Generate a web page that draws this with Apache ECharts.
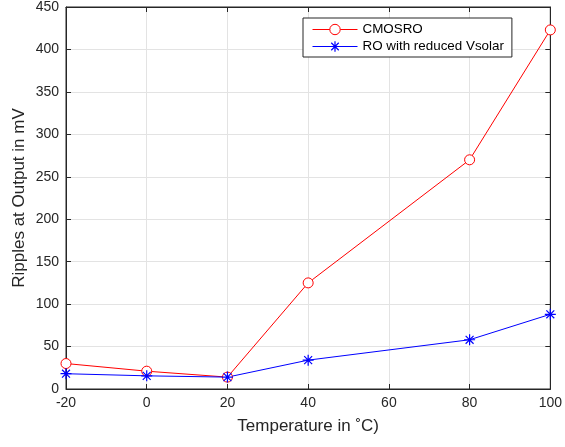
<!DOCTYPE html>
<html><head><meta charset="utf-8">
<script src="https://cdn.jsdelivr.net/npm/echarts@6/dist/echarts.min.js"></script>
<style>html,body{margin:0;padding:0;background:#fff}#c{width:565px;height:447px}</style>
</head><body><div id="c"></div>
<script>
const temps = [-20, 0, 20, 40, 80, 100];
const cmosro = [30, 21, 14, 125, 270, 423];
const roReduced = [18, 15.5, 14, 34, 58, 88];
const xTicks = [-20, 0, 20, 40, 60, 80, 100];
const yTicks = [0, 50, 100, 150, 200, 250, 300, 350, 400, 450];

const FONT = 'Liberation Sans, Arial, Helvetica, sans-serif';
const AX = '#262626';
const star = 'path://M0,-1L0,1M-1,0L1,0M-0.72,-0.72L0.72,0.72M-0.72,0.72L0.72,-0.72';

const chart = echarts.init(document.getElementById('c'), null, {renderer: 'canvas'});
const baseX = {type: 'value', min: xTicks[0], max: xTicks[xTicks.length - 1], interval: 20};
const baseY = {type: 'value', min: yTicks[0], max: yTicks[yTicks.length - 1], interval: 50};
chart.setOption({
  animation: false,
  backgroundColor: '#fff',
  textStyle: {fontFamily: FONT},
  grid: {left: 66, right: 12, top: 4, bottom: 58, show: true, borderColor: AX, borderWidth: 1},
  legend: {
    orient: 'vertical', left: 303, top: 18,
    backgroundColor: '#fff', borderColor: AX, borderWidth: 1,
    padding: [5, 8, 4, 9], itemWidth: 45, itemHeight: 13, itemGap: 4,
    textStyle: {fontSize: 13.4, color: '#000', fontFamily: FONT},
    data: [
      {name: 'CMOSRO', lineStyle: {color: '#ff0000', width: 1},
       itemStyle: {color: '#fff', borderColor: '#ff0000', borderWidth: 1}},
      {name: 'RO with reduced Vsolar', lineStyle: {color: '#0000ff', width: 1},
       itemStyle: {color: '#0000ff', borderColor: '#0000ff', borderWidth: 1.2}}
    ]
  },
  xAxis: [
    Object.assign({}, baseX, {
      name: 'Temperature in \u02DAC)', nameLocation: 'middle', nameGap: 29, nameMoveOverlap: false,
      nameTextStyle: {fontSize: 17, color: AX, fontFamily: FONT},
      axisLine: {onZero: false, lineStyle: {color: AX}},
      axisTick: {inside: true, length: 5, lineStyle: {color: AX}},
      axisLabel: {fontSize: 14, color: AX, margin: 7, fontFamily: FONT},
      splitLine: {show: true, lineStyle: {color: '#e3e3e3'}}
    }),
    Object.assign({}, baseX, {
      position: 'top',
      axisLine: {onZero: false, lineStyle: {color: AX}},
      axisTick: {inside: true, length: 5, lineStyle: {color: AX}},
      axisLabel: {show: false}, splitLine: {show: false}
    })
  ],
  yAxis: [
    Object.assign({}, baseY, {
      name: 'Ripples at Output in mV', nameLocation: 'middle', nameGap: 38, nameMoveOverlap: false,
      nameTextStyle: {fontSize: 17, color: AX, fontFamily: FONT},
      axisLine: {onZero: false, lineStyle: {color: AX}},
      axisTick: {inside: true, length: 5, lineStyle: {color: AX}},
      axisLabel: {fontSize: 14, color: AX, margin: 7, fontFamily: FONT},
      splitLine: {show: true, lineStyle: {color: '#e3e3e3'}}
    }),
    Object.assign({}, baseY, {
      position: 'right',
      axisLine: {onZero: false, lineStyle: {color: AX}},
      axisTick: {inside: true, length: 5, lineStyle: {color: AX}},
      axisLabel: {show: false}, splitLine: {show: false}
    })
  ],
  series: [
    {
      name: 'CMOSRO', type: 'line',
      data: temps.map((t, i) => [t, cmosro[i]]),
      lineStyle: {color: '#ff0000', width: 1},
      symbol: 'circle', symbolSize: 10, showAllSymbol: true,
      itemStyle: {color: '#fff', borderColor: '#ff0000', borderWidth: 1},
      emphasis: {disabled: true}
    },
    {
      name: 'RO with reduced Vsolar', type: 'line',
      data: temps.map((t, i) => [t, roReduced[i]]),
      lineStyle: {color: '#0000ff', width: 1},
      symbol: star, symbolSize: 11, showAllSymbol: true,
      itemStyle: {color: '#0000ff', borderColor: '#0000ff', borderWidth: 1.2},
      emphasis: {disabled: true}
    }
  ]
});
</script>
</body></html>
